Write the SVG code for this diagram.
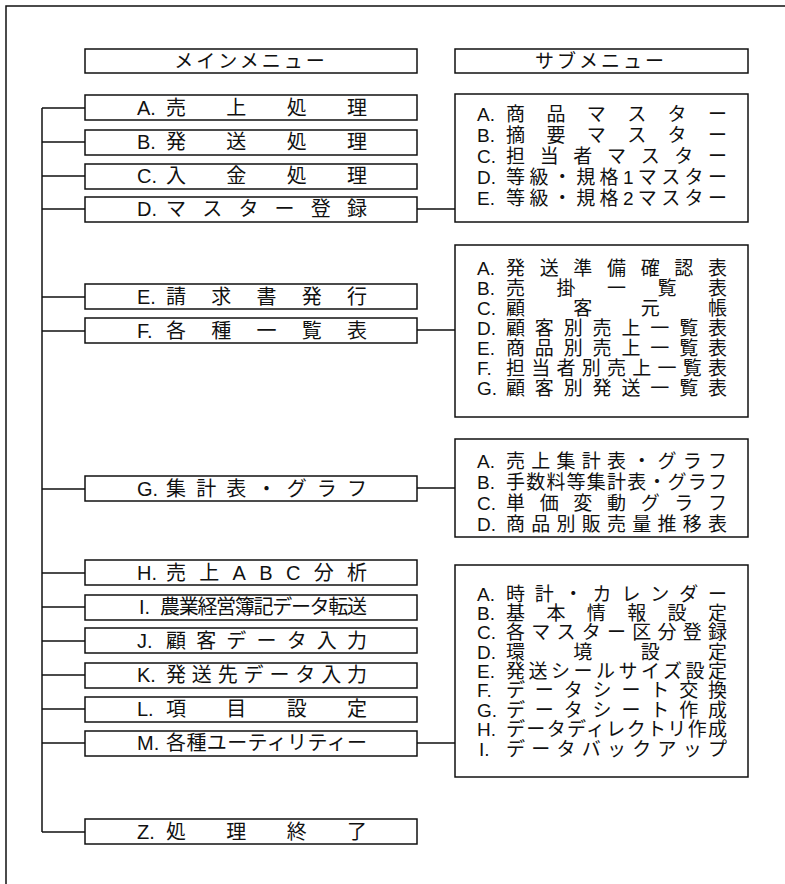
<svg xmlns="http://www.w3.org/2000/svg" width="785" height="884" viewBox="0 0 785 884">
<style>
.box{fill:#fff;stroke:#111;stroke-width:1.5}
.ln{fill:none;stroke:#111;stroke-width:1.5}
text{font-family:"Liberation Sans","Noto Sans CJK JP",sans-serif;font-size:19px;fill:#111;dominant-baseline:central}
.m{font-size:20px}
.hd{text-anchor:middle;letter-spacing:3px}
</style>
<rect x="0" y="0" width="785" height="884" fill="#fff"/>
<rect class="ln" x="6" y="6" width="820" height="920"/>

<g id="connectors">
<path class="ln" d="M42 108 V832"/>
<path class="ln" d="M42 108 H85 M42 142 H85 M42 176 H85 M42 209 H85 M42 297 H85 M42 331 H85 M42 489 H85 M42 573 H85 M42 607 H85 M42 641 H85 M42 675 H85 M42 709 H85 M42 743 H85 M42 832 H85"/>
<path class="ln" d="M417 209 H455 M417 330 H455 M417 488 H455 M417 743 H455"/>
</g>

<g id="hdr-main"><rect class="box" x="85" y="49" width="332" height="24"/><text class="hd" x="251" y="61">メインメニュー</text></g>
<g id="hdr-sub"><rect class="box" x="455" y="49" width="293" height="24"/><text class="hd" x="601" y="61">サブメニュー</text></g>

<g id="mA"><rect class="box" x="85" y="95" width="332" height="25"/><text class="m" x="137" y="108">A.</text><text class="m" x="166" y="108" textLength="201" lengthAdjust="spacing">売上処理</text></g>
<g id="mB"><rect class="box" x="85" y="130" width="332" height="25"/><text class="m" x="137" y="142">B.</text><text class="m" x="166" y="142" textLength="201" lengthAdjust="spacing">発送処理</text></g>
<g id="mC"><rect class="box" x="85" y="164" width="332" height="25"/><text class="m" x="137" y="176">C.</text><text class="m" x="166" y="176" textLength="201" lengthAdjust="spacing">入金処理</text></g>
<g id="mD"><rect class="box" x="85" y="197" width="332" height="25"/><text class="m" x="137" y="209">D.</text><text class="m" x="166" y="209" textLength="201" lengthAdjust="spacing">マスター登録</text></g>
<g id="mE"><rect class="box" x="85" y="284" width="332" height="25"/><text class="m" x="137" y="297">E.</text><text class="m" x="166" y="297" textLength="201" lengthAdjust="spacing">請求書発行</text></g>
<g id="mF"><rect class="box" x="85" y="318" width="332" height="25"/><text class="m" x="137" y="331">F.</text><text class="m" x="166" y="331" textLength="201" lengthAdjust="spacing">各種一覧表</text></g>
<g id="mG"><rect class="box" x="85" y="476" width="332" height="25"/><text class="m" x="137" y="489">G.</text><text class="m" x="166" y="489" textLength="201" lengthAdjust="spacing">集計表・グラフ</text></g>
<g id="mH"><rect class="box" x="85" y="560" width="332" height="25"/><text class="m" x="137" y="573">H.</text><text class="m" x="166" y="573" textLength="201" lengthAdjust="spacing">売上ABC分析</text></g>
<g id="mI"><rect class="box" x="85" y="595" width="332" height="25"/><text class="m" x="139" y="607">I.</text><text class="m" x="160" y="607" textLength="207" lengthAdjust="spacing">農業経営簿記データ転送</text></g>
<g id="mJ"><rect class="box" x="85" y="628" width="332" height="25"/><text class="m" x="137" y="641">J.</text><text class="m" x="166" y="641" textLength="201" lengthAdjust="spacing">顧客データ入力</text></g>
<g id="mK"><rect class="box" x="85" y="663" width="332" height="25"/><text class="m" x="137" y="675">K.</text><text class="m" x="166" y="675" textLength="201" lengthAdjust="spacing">発送先データ入力</text></g>
<g id="mL"><rect class="box" x="85" y="697" width="332" height="25"/><text class="m" x="137" y="709">L.</text><text class="m" x="166" y="709" textLength="201" lengthAdjust="spacing">項目設定</text></g>
<g id="mM"><rect class="box" x="85" y="731" width="332" height="25"/><text class="m" x="137" y="743">M.</text><text class="m" x="166" y="743" textLength="201" lengthAdjust="spacing">各種ユーティリティー</text></g>
<g id="mZ"><rect class="box" x="85" y="819" width="332" height="25"/><text class="m" x="137" y="832">Z.</text><text class="m" x="166" y="832" textLength="201" lengthAdjust="spacing">処理終了</text></g>

<g id="sub1"><rect class="box" x="455" y="94" width="293" height="128"/>
<text x="477" y="114">A.</text><text x="506" y="114" textLength="221" lengthAdjust="spacing">商品マスター</text>
<text x="477" y="135">B.</text><text x="506" y="135" textLength="221" lengthAdjust="spacing">摘要マスター</text>
<text x="477" y="156">C.</text><text x="506" y="156" textLength="221" lengthAdjust="spacing">担当者マスター</text>
<text x="477" y="177">D.</text><text x="506" y="177" textLength="221" lengthAdjust="spacing">等級・規格1マスター</text>
<text x="477" y="198">E.</text><text x="506" y="198" textLength="221" lengthAdjust="spacing">等級・規格2マスター</text>
</g>

<g id="sub2"><rect class="box" x="455" y="245" width="293" height="172"/>
<text x="477" y="268">A.</text><text x="506" y="268" textLength="221" lengthAdjust="spacing">発送準備確認表</text>
<text x="477" y="288">B.</text><text x="506" y="288" textLength="221" lengthAdjust="spacing">売掛一覧表</text>
<text x="477" y="308">C.</text><text x="506" y="308" textLength="221" lengthAdjust="spacing">顧客元帳</text>
<text x="477" y="328">D.</text><text x="506" y="328" textLength="221" lengthAdjust="spacing">顧客別売上一覧表</text>
<text x="477" y="348">E.</text><text x="506" y="348" textLength="221" lengthAdjust="spacing">商品別売上一覧表</text>
<text x="477" y="368">F.</text><text x="506" y="368" textLength="221" lengthAdjust="spacing">担当者別売上一覧表</text>
<text x="477" y="388">G.</text><text x="506" y="388" textLength="221" lengthAdjust="spacing">顧客別発送一覧表</text>
</g>

<g id="sub3"><rect class="box" x="455" y="439" width="293" height="98"/>
<text x="477" y="461">A.</text><text x="506" y="461" textLength="221" lengthAdjust="spacing">売上集計表・グラフ</text>
<text x="477" y="482">B.</text><text x="506" y="482" textLength="221" lengthAdjust="spacing">手数料等集計表・グラフ</text>
<text x="477" y="503">C.</text><text x="506" y="503" textLength="221" lengthAdjust="spacing">単価変動グラフ</text>
<text x="477" y="524">D.</text><text x="506" y="524" textLength="221" lengthAdjust="spacing">商品別販売量推移表</text>
</g>

<g id="sub4"><rect class="box" x="455" y="565" width="293" height="212"/>
<text x="477" y="594">A.</text><text x="506" y="594" textLength="221" lengthAdjust="spacing">時計・カレンダー</text>
<text x="477" y="613">B.</text><text x="506" y="613" textLength="221" lengthAdjust="spacing">基本情報設定</text>
<text x="477" y="632">C.</text><text x="506" y="632" textLength="221" lengthAdjust="spacing">各マスター区分登録</text>
<text x="477" y="652">D.</text><text x="506" y="652" textLength="221" lengthAdjust="spacing">環境設定</text>
<text x="477" y="671">E.</text><text x="506" y="671" textLength="221" lengthAdjust="spacing">発送シールサイズ設定</text>
<text x="477" y="690">F.</text><text x="506" y="690" textLength="221" lengthAdjust="spacing">データシート交換</text>
<text x="477" y="710">G.</text><text x="506" y="710" textLength="221" lengthAdjust="spacing">データシート作成</text>
<text x="477" y="729">H.</text><text x="506" y="729" textLength="221" lengthAdjust="spacing">データディレクトリ作成</text>
<text x="479" y="749">I.</text><text x="506" y="749" textLength="221" lengthAdjust="spacing">データバックアップ</text>
</g>
</svg>
